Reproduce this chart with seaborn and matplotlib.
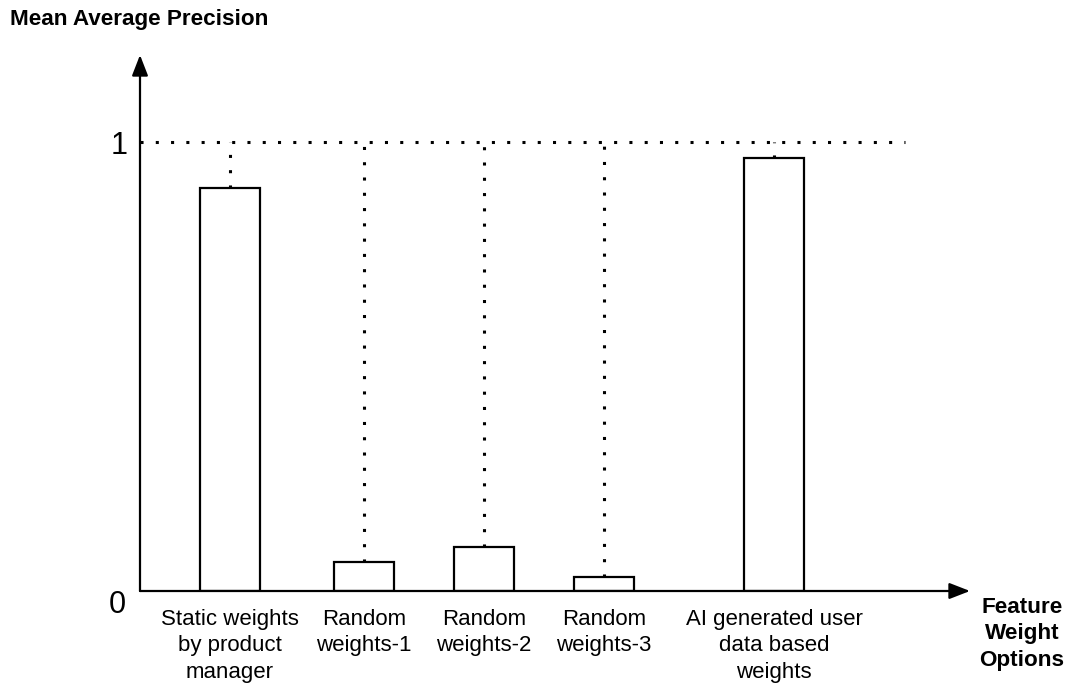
import matplotlib
matplotlib.use("Agg")
import matplotlib.pyplot as plt
import seaborn as sns

# ---- data ----
categories = [
    "Static weights\nby product\nmanager",
    "Random\nweights-1",
    "Random\nweights-2",
    "Random\nweights-3",
    "AI generated user\ndata based\nweights",
]
map_scores = [0.898, 0.065, 0.098, 0.031, 0.964]
y_ticks = [1]
y_tick_labels = ["1"]

# layout: the diagram spaces its bars unevenly
slot_pos = [0, 1.34, 2.54, 3.74, 5.44]

sns.set_style("white")
plt.rcParams["font.family"] = ["Liberation Sans", "DejaVu Sans"]
plt.rcParams["text.color"] = "black"
plt.rcParams["xtick.color"] = "black"
plt.rcParams["ytick.color"] = "black"

fig = plt.figure(figsize=(10.71, 6.84), dpi=100)
ax = fig.add_axes([140 / 1071, 93 / 684, 830 / 1071, 536 / 684])

sns.barplot(x=slot_pos, y=map_scores, native_scale=True, color="white",
            edgecolor="black", linewidth=1.6, width=0.5, saturation=1, ax=ax)

ax.set_ylim(0, 536 / 449)
ax.set_xlim(-0.9, 7.4)

# dotted guide at 1 and from each bar top up to 1
dot = dict(color="black", linewidth=2.2, linestyle=(0, (1, 4)))
ax.hlines(1, ax.get_xlim()[0], 6.75, **dot)
for p in ax.patches:
    cx = p.get_x() + p.get_width() / 2
    ax.vlines(cx, p.get_height(), 1, **dot)

# axes as arrows
for s in ax.spines.values():
    s.set_visible(False)
arrow = dict(arrowstyle="-|>,head_length=0.9,head_width=0.35", color="black",
             linewidth=1.6, shrinkA=0, shrinkB=0, mutation_scale=14)
ax.annotate("", xy=(1, 0), xytext=(0, 0), xycoords="axes fraction", arrowprops=arrow)
ax.annotate("", xy=(0, 1), xytext=(0, 0), xycoords="axes fraction", arrowprops=arrow)

ax.set_xticks(slot_pos)
ax.set_xticklabels(categories, fontsize=16, linespacing=1.33)
ax.set_yticks(y_ticks)
ax.set_yticklabels(y_tick_labels, fontsize=22)
ax.tick_params(axis="y", length=0, pad=9)
ax.tick_params(axis="x", length=0, pad=13)
ax.annotate("0", xy=(0, 0), xycoords=("axes fraction", "data"),
            xytext=(-14, -14), textcoords="offset pixels",
            ha="right", va="center", fontsize=22)
ax.set_xlabel("")
ax.set_ylabel("")

fig.text(10 / 1071, 1 - 20 / 684, "Mean Average Precision", ha="left", va="center",
         fontsize=16.2, fontweight="bold")
fig.text(1022 / 1071, 1 - 634 / 684, "Feature\nWeight\nOptions", ha="center",
         va="center", fontsize=16.2, fontweight="bold", linespacing=1.33)

fig.savefig("out.png", dpi=100)
